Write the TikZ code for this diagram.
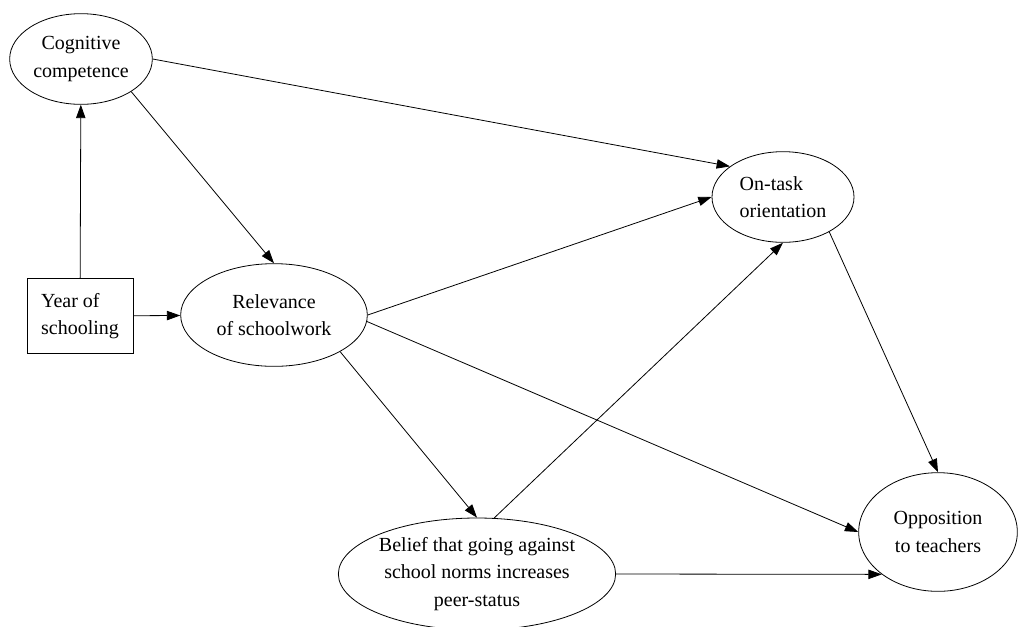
\documentclass[tikz,border=0pt]{standalone}
\usepackage{fontspec}
\setmainfont{Liberation Serif}
\usetikzlibrary{arrows.meta,shapes.geometric}

\begin{document}
\begin{tikzpicture}[x=0.75pt,y=-0.75pt,
    every node/.style={font=\fontsize{15}{20.5}\selectfont},
    factor/.style={draw, ellipse, line width=0.6pt, inner sep=0pt, align=center},
    givenbox/.style={draw, rectangle, line width=0.6pt, inner sep=0pt, align=left},
    link/.style={-{Triangle[length=10pt,width=7pt]}, line width=0.6pt}]
        \useasboundingbox (0,0) rectangle (1020,626);
        \node[factor, minimum width=107pt, minimum height=68pt] (cog) at (81,59) {Cognitive\\competence};
        \node[givenbox, minimum width=79.5pt, minimum height=56pt] (year) at (80,316) {Year of\\schooling};
        \node[factor, minimum width=140pt, minimum height=77pt] (rel) at (274,315) {Relevance\\of schoolwork};
        \node[factor, minimum width=106.5pt, minimum height=68pt, align=left] (task) at (783,197) {On-task\\orientation};
        \node[factor, minimum width=119pt, minimum height=89pt] (opp) at (938,532) {Opposition\\to teachers};
        \node[factor, minimum width=202pt, minimum height=84pt] (belief) at (477,574) {Belief that going against\\school norms increases\\peer-status};
        % paths
        \draw[link] (year) -- (cog);
        \draw[link] (year) -- (rel);
        \draw[link] (cog.-33) -- (rel.north);
        \draw[link] (cog.east) -- (task.150);
        \draw[link] (rel.east) -- (task.west);
        \draw[link] (rel.-4) -- (opp.west);
        \draw[link] (rel.-29) -- (belief.north);
        \draw[link] (belief.73) -- (task.south);
        \draw[link] (task.-37) -- (opp.north);
        \draw[link] (belief.east) -- (opp.217);
      \end{tikzpicture}
\end{document}
